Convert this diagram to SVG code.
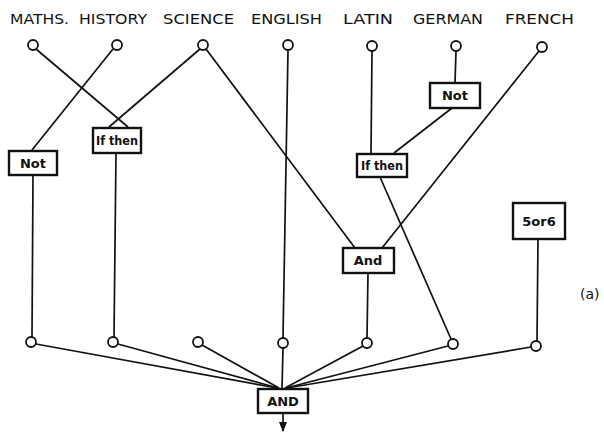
<svg xmlns="http://www.w3.org/2000/svg" width="604" height="434" viewBox="0 0 604 434">
<defs>
<style>
.lbl{font-family:"DejaVu Sans","Liberation Sans",sans-serif;font-size:14px;fill:#111;}
.box{fill:#fff;stroke:#111;stroke-width:2.4;}
.bt{font-family:"DejaVu Sans","Liberation Sans",sans-serif;font-size:13px;font-weight:bold;fill:#111;text-anchor:middle;}
.c{fill:#fff;stroke:#111;stroke-width:1.8;}
.ln{stroke:#111;stroke-width:1.7;fill:none;}
</style>
<marker id="ah" viewBox="0 0 10 10" refX="9" refY="5" markerWidth="6" markerHeight="6" orient="auto">
<path d="M0,1 L10,5 L0,9 Z" fill="#111"/>
</marker>
</defs>
<rect width="604" height="434" fill="#fff"/>
<g id="connectors" class="ln">
<line x1="36" y1="49" x2="128" y2="127"/>
<line x1="113" y1="49" x2="32" y2="150"/>
<line x1="200" y1="49" x2="109" y2="127"/>
<line x1="206" y1="49" x2="355" y2="248"/>
<line x1="288" y1="50" x2="283" y2="338"/>
<line x1="372" y1="50" x2="371" y2="153"/>
<line x1="456" y1="51" x2="455" y2="83"/>
<line x1="452" y1="108" x2="394" y2="153"/>
<line x1="539" y1="51" x2="382" y2="248"/>
<line x1="380" y1="177" x2="451" y2="339"/>
<line x1="33" y1="176" x2="32" y2="337"/>
<line x1="116" y1="153" x2="114" y2="337"/>
<line x1="368" y1="273" x2="367" y2="338"/>
<line x1="538" y1="239" x2="537" y2="341"/>
<line x1="36" y1="344" x2="277" y2="388"/>
<line x1="118" y1="344" x2="278" y2="388"/>
<line x1="202" y1="345" x2="279" y2="388"/>
<line x1="283" y1="348" x2="282" y2="388"/>
<line x1="363" y1="346" x2="285" y2="388"/>
<line x1="448" y1="346" x2="286" y2="388"/>
<line x1="531" y1="347" x2="287" y2="388"/>
<line x1="283" y1="413" x2="283" y2="431" marker-end="url(#ah)"/>
</g>
<g id="labels">
<text class="lbl" x="10" y="24" textLength="59" lengthAdjust="spacingAndGlyphs">MATHS.</text>
<text class="lbl" x="79" y="24" textLength="68" lengthAdjust="spacingAndGlyphs">HISTORY</text>
<text class="lbl" x="163" y="24" textLength="71" lengthAdjust="spacingAndGlyphs">SCIENCE</text>
<text class="lbl" x="251" y="24" textLength="71" lengthAdjust="spacingAndGlyphs">ENGLISH</text>
<text class="lbl" x="343" y="24" textLength="50" lengthAdjust="spacingAndGlyphs">LATIN</text>
<text class="lbl" x="413" y="24" textLength="70" lengthAdjust="spacingAndGlyphs">GERMAN</text>
<text class="lbl" x="505" y="24" textLength="69" lengthAdjust="spacingAndGlyphs">FRENCH</text>
<text class="lbl" x="580" y="299">(a)</text>
</g>
<g id="in-maths"><circle class="c" cx="33" cy="45" r="5"/></g>
<g id="in-history"><circle class="c" cx="117" cy="45" r="5"/></g>
<g id="in-science"><circle class="c" cx="203" cy="45" r="5"/></g>
<g id="in-english"><circle class="c" cx="288" cy="45" r="5"/></g>
<g id="in-latin"><circle class="c" cx="372" cy="46" r="5"/></g>
<g id="in-german"><circle class="c" cx="456" cy="46" r="5"/></g>
<g id="in-french"><circle class="c" cx="542" cy="47" r="5"/></g>
<g id="not1"><rect class="box" x="9" y="151" width="48" height="24"/><text class="bt" x="33" y="168">Not</text></g>
<g id="ifthen1"><rect class="box" x="93" y="128" width="48" height="25"/><text class="bt" x="117" y="145" textLength="42" lengthAdjust="spacingAndGlyphs">If then</text></g>
<g id="not2"><rect class="box" x="430" y="83" width="50" height="25"/><text class="bt" x="455" y="100">Not</text></g>
<g id="ifthen2"><rect class="box" x="357" y="154" width="50" height="23"/><text class="bt" x="382" y="170" textLength="42" lengthAdjust="spacingAndGlyphs">If then</text></g>
<g id="and1"><rect class="box" x="343" y="248" width="51" height="25"/><text class="bt" x="368" y="265">And</text></g>
<g id="fiveorsix"><rect class="box" x="513" y="203" width="52" height="36"/><text class="bt" x="539" y="226">5or6</text></g>
<g id="out1"><circle class="c" cx="31" cy="342" r="5"/></g>
<g id="out2"><circle class="c" cx="113" cy="342" r="5"/></g>
<g id="out3"><circle class="c" cx="198" cy="342" r="5"/></g>
<g id="out4"><circle class="c" cx="283" cy="343" r="5"/></g>
<g id="out5"><circle class="c" cx="367" cy="343" r="5"/></g>
<g id="out6"><circle class="c" cx="453" cy="344" r="5"/></g>
<g id="out7"><circle class="c" cx="536" cy="346" r="5"/></g>
<g id="and-main"><rect class="box" x="258" y="389" width="50" height="24"/><text class="bt" x="283" y="406">AND</text></g>
</svg>
